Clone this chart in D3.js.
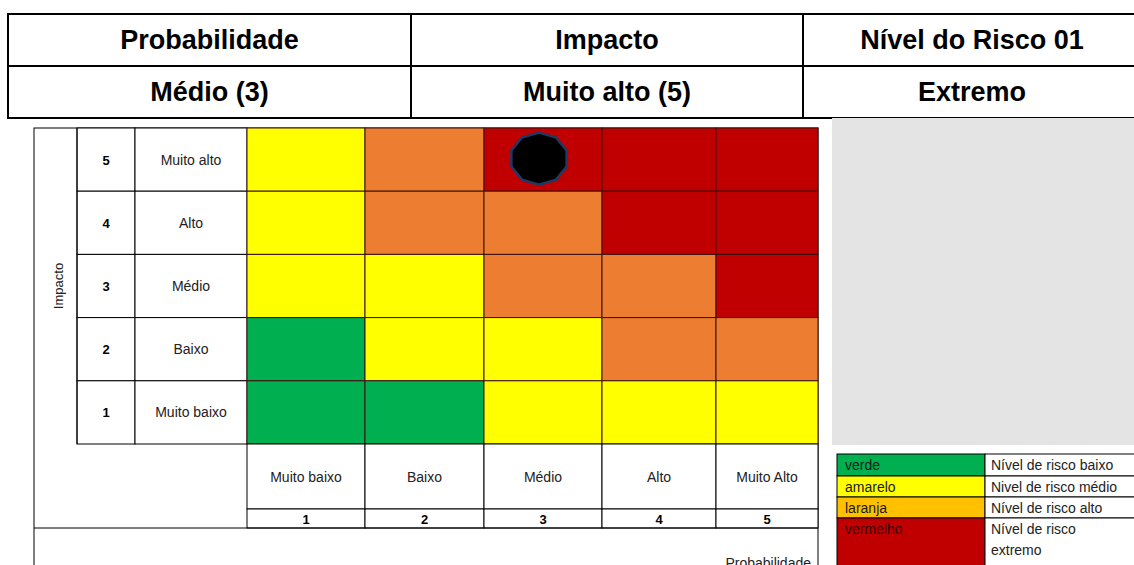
<!DOCTYPE html>
<html>
<head>
<meta charset="utf-8">
<script src="https://cdn.jsdelivr.net/npm/d3@7"></script>
<style>
  body { margin: 0; background: #fff; }
  svg { display: block; font-family: "Liberation Sans", Arial, sans-serif; }
</style>
</head>
<body>
<svg id="chart" width="1134" height="565"></svg>
<script>
// header table
const headerTitles = ["Probabilidade", "Impacto", "Nível do Risco 01"];
const headerValues = ["Médio (3)", "Muito alto (5)", "Extremo"];

// matrix
const probCodes = [1, 2, 3, 4, 5];
const probLabels = ["Muito baixo", "Baixo", "Médio", "Alto", "Muito Alto"];
const impactCodes = [5, 4, 3, 2, 1];
const impactLabels = ["Muito alto", "Alto", "Médio", "Baixo", "Muito baixo"];
// risk level per impact row (top to bottom), per probability column
const riskLevels = [
  ["amarelo", "laranja", "vermelho", "vermelho", "vermelho"],
  ["amarelo", "laranja", "laranja", "vermelho", "vermelho"],
  ["amarelo", "amarelo", "laranja", "laranja", "vermelho"],
  ["verde", "amarelo", "amarelo", "laranja", "laranja"],
  ["verde", "verde", "amarelo", "amarelo", "amarelo"]
];
const riskPoint = { prob: 3, impact: 5 };

// legend
const legendKeys = ["verde", "amarelo", "laranja", "vermelho"];
const legendTexts = [["Nível de risco baixo"], ["Nivel de risco médio"], ["Nível de risco alto"], ["Nível de risco", "extremo"]];

const cellColor = { verde: "#00B050", amarelo: "#FFFF00", laranja: "#ED7D31", vermelho: "#C00000" };
const legendColor = { verde: "#00B050", amarelo: "#FFFF00", laranja: "#FFC000", vermelho: "#C00000" };

const svg = d3.select("#chart");

// ---- header table
const hx = d3.scaleOrdinal().domain([0, 1, 2]).range([8, 411, 803]);
const hw = [403, 392, 340];
const hy = d3.scaleBand().domain([0, 1]).range([14, 118]);
const header = svg.append("g");
[headerTitles, headerValues].forEach((row, r) => {
  row.forEach((t, c) => {
    header.append("rect")
      .attr("x", hx(c)).attr("y", hy(r))
      .attr("width", hw[c]).attr("height", hy.bandwidth())
      .attr("fill", "#fff").attr("stroke", "#000").attr("stroke-width", 2);
    header.append("text")
      .attr("x", hx(c) + hw[c] / 2 + (c === 2 ? -1 : 0))
      .attr("y", hy(r) + hy.bandwidth() / 2 + 9)
      .attr("text-anchor", "middle")
      .style("font-size", "27px").style("font-weight", "bold")
      .text(t);
  });
});

// ---- matrix
const colWidths = [118, 119, 118, 114, 102];
const colStarts = colWidths.map((w, i) => 247 + d3.sum(colWidths.slice(0, i)));
const x = d3.scaleOrdinal().domain(probCodes).range(colStarts);
const cw = d3.scaleOrdinal().domain(probCodes).range(colWidths);
const y = d3.scaleBand().domain(impactCodes).range([128, 444]);

const grid = svg.append("g");

// outer frame
grid.append("rect")
  .attr("x", 34).attr("y", 128).attr("width", 784).attr("height", 460)
  .attr("fill", "#fff").attr("stroke", "#000").attr("stroke-width", 1);

// impact label columns
impactCodes.forEach((code, i) => {
  grid.append("rect").attr("x", 77).attr("y", y(code)).attr("width", 58).attr("height", y.bandwidth())
    .attr("fill", "#fff").attr("stroke", "#000");
  grid.append("rect").attr("x", 135).attr("y", y(code)).attr("width", 112).attr("height", y.bandwidth())
    .attr("fill", "#fff").attr("stroke", "#000");
  grid.append("text").attr("x", 106).attr("y", y(code) + y.bandwidth() / 2 + 5)
    .attr("text-anchor", "middle").style("font-size", "13px").style("font-weight", "bold")
    .text(code);
  grid.append("text").attr("x", 191).attr("y", y(code) + y.bandwidth() / 2 + 5)
    .attr("text-anchor", "middle").style("font-size", "14px").attr("fill", "#222")
    .text(impactLabels[i]);
});
grid.append("line").attr("x1", 77).attr("x2", 77).attr("y1", 128).attr("y2", 444).attr("stroke", "#000");
grid.append("text")
  .attr("transform", `translate(63,${(128 + 444) / 2}) rotate(-90)`)
  .attr("text-anchor", "middle").style("font-size", "13px").attr("fill", "#222")
  .text("Impacto");

// colored cells
const cells = [];
riskLevels.forEach((row, r) => row.forEach((lvl, c) => cells.push({ impact: impactCodes[r], prob: probCodes[c], lvl })));
grid.selectAll(".cell").data(cells).enter().append("rect")
  .attr("class", "cell")
  .attr("x", d => x(d.prob)).attr("y", d => y(d.impact))
  .attr("width", d => cw(d.prob)).attr("height", y.bandwidth())
  .attr("fill", d => cellColor[d.lvl])
  .attr("stroke", "#3a1010").attr("stroke-width", 1);

// probability labels
probCodes.forEach((code, i) => {
  grid.append("rect").attr("x", x(code)).attr("y", 444).attr("width", cw(code)).attr("height", 65)
    .attr("fill", "#fff").attr("stroke", "#000");
  grid.append("rect").attr("x", x(code)).attr("y", 509).attr("width", cw(code)).attr("height", 19)
    .attr("fill", "#fff").attr("stroke", "#000");
  grid.append("text").attr("x", x(code) + cw(code) / 2).attr("y", 482)
    .attr("text-anchor", "middle").style("font-size", "14px").attr("fill", "#222")
    .text(probLabels[i]);
  grid.append("text").attr("x", x(code) + cw(code) / 2).attr("y", 524)
    .attr("text-anchor", "middle").style("font-size", "13px").style("font-weight", "bold")
    .text(code);
});
grid.append("line").attr("x1", 34).attr("x2", 818).attr("y1", 528).attr("y2", 528).attr("stroke", "#000");
grid.append("text").attr("x", 811).attr("y", 568)
  .attr("text-anchor", "end").style("font-size", "14px").attr("fill", "#222")
  .text("Probabilidade");

// risk marker (decagon)
const cx = x(riskPoint.prob) + cw(riskPoint.prob) / 2 - 4;
const cy = y(riskPoint.impact) + y.bandwidth() / 2 - 1;
const pts = d3.range(10).map(k => {
  const a = (k / 10) * 2 * Math.PI;
  return [cx + 29 * Math.sin(a), cy - 26 * Math.cos(a)];
});
grid.append("polygon")
  .attr("points", pts.map(p => p.join(",")).join(" "))
  .attr("fill", "#000").attr("stroke", "#1F3864").attr("stroke-width", 2.5);

// ---- gray panel
svg.append("rect").attr("x", 832).attr("y", 118).attr("width", 302).attr("height", 327).attr("fill", "#E4E4E4");

// ---- legend
const ly = d3.scaleOrdinal().domain(legendKeys).range([454, 476, 497, 518]);
const lh = d3.scaleOrdinal().domain(legendKeys).range([22, 21, 21, 60]);
const legend = svg.append("g");
legendKeys.forEach((k, i) => {
  legend.append("rect").attr("x", 837).attr("y", ly(k)).attr("width", 148).attr("height", lh(k))
    .attr("fill", legendColor[k]).attr("stroke", "#000");
  legend.append("rect").attr("x", 985).attr("y", ly(k)).attr("width", 160).attr("height", lh(k))
    .attr("fill", "#fff").attr("stroke", "#000");
  legend.append("text").attr("x", 845).attr("y", ly(k) + 16)
    .style("font-size", "14px").attr("fill", k === "vermelho" ? "#3a0000" : "#1a1a1a")
    .text(k);
  legendTexts[i].forEach((t, j) => {
    legend.append("text").attr("x", 991).attr("y", ly(k) + 16 + j * 21)
      .style("font-size", "14px").attr("fill", "#222")
      .text(t);
  });
});
</script>
</body>
</html>
